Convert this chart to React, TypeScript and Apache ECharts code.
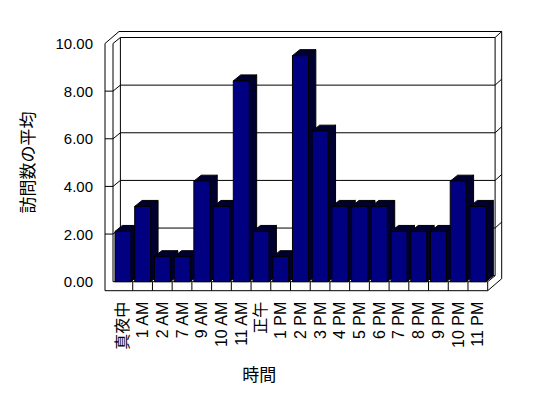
import React, { useEffect, useRef } from "react";
import * as echarts from "echarts";

const categories = ["真夜中", "1 AM", "2 AM", "7 AM", "9 AM", "10 AM", "11 AM", "正午", "1 PM", "2 PM", "3 PM", "4 PM", "5 PM", "6 PM", "7 PM", "8 PM", "9 PM", "10 PM", "11 PM"];
const averageVisits = [2.11, 3.16, 1.05, 1.05, 4.22, 3.16, 8.43, 2.11, 1.05, 9.49, 6.32, 3.16, 3.16, 3.16, 2.11, 2.11, 2.11, 4.22, 3.16];
const yTickValues = [0, 2, 4, 6, 8, 10];
const xAxisTitle = "時間";
const yAxisTitle = "訪問数の平均";

const FONT = '"Liberation Sans", "Noto Sans CJK JP", sans-serif';
const DX = 7.4;
const DY = -6;
const TX = 6.6;
const TY = -6;
const WALL = 8;
const FLOOR = 9;
const NAVY = "#000080";
const DARK = "#000030";

export default function App() {
  const ref = useRef<HTMLDivElement>(null);
  useEffect(() => {
    if (!ref.current) return;
    const chart = echarts.init(ref.current, null, { renderer: "svg" });
    const L = { stroke: "#000", lineWidth: 1 };
    const gridVals = yTickValues.filter((v) => v > yTickValues[0] && v < yTickValues[yTickValues.length - 1]);

    const frameRender = (params: any, api: any) => {
      const cs = params.coordSys;
      const xL = cs.x, xR = cs.x + cs.width, yT = cs.y, yB = cs.y + cs.height;
      const bw = api.size([1, 0])[0];
      const ch: any[] = [];
      ch.push({
        type: "polygon",
        shape: { points: [[xL - WALL, yT], [xL - WALL + DX + TX, yT + DY + TY], [xR + DX + TX, yT + DY + TY], [xR + DX + TX, yB + DY + TY + FLOOR], [xR, yB + FLOOR], [xL - WALL, yB + FLOOR]] },
        style: { fill: "#fff", ...L },
      });
      ch.push({ type: "rect", shape: { x: xL + DX, y: yT + DY, width: xR - xL, height: yB - yT }, style: { fill: "#fff", ...L } });
      const line = (x1: number, y1: number, x2: number, y2: number) =>
        ch.push({ type: "line", shape: { x1, y1, x2, y2 }, style: L });
      line(xR + DX, yT + DY, xR + DX + TX, yT + DY + TY);
      line(xL, yT, xL, yB);
      line(xL, yT, xL + DX, yT + DY);
      line(xL, yB, xR, yB);
      line(xR, yB, xR, yB + FLOOR);
      line(xR, yB, xR + DX, yB + DY);
      for (const v of gridVals) {
        const y = api.coord([0, v])[1];
        line(xL - WALL, y, xL, y);
        line(xL, y, xL + DX, y + DY);
        line(xL + DX, y + DY, xR + DX, y + DY);
        line(xR + DX, y + DY, xR + DX + TX, y + DY + TY);
      }
      for (let k = 1; k < categories.length; k++) {
        const x = xL + k * bw;
        line(x, yB, x, yB + FLOOR);
      }
      return { type: "group", children: ch };
    };

    const barRender = (params: any, api: any) => {
      const i = api.value(0);
      const v = api.value(1);
      const [cx, yTop] = api.coord([i, v]);
      const y0 = api.coord([i, 0])[1];
      const bw = api.size([1, 0])[0];
      const x0 = cx - bw / 2 + bw * 0.1;
      const x1 = x0 + bw * 0.81;
      return {
        type: "group",
        children: [
          { type: "polygon", shape: { points: [[x1, yTop], [x1 + DX, yTop + DY], [x1 + DX, y0 + DY], [x1, y0]] }, style: { fill: DARK, ...L } },
          { type: "polygon", shape: { points: [[x0, yTop], [x0 + DX, yTop + DY], [x1 + DX, yTop + DY], [x1, yTop]] }, style: { fill: DARK, ...L } },
          { type: "rect", shape: { x: x0, y: yTop, width: x1 - x0, height: y0 - yTop }, style: { fill: NAVY, ...L } },
        ],
      };
    };

    chart.setOption({
      animation: false,
      backgroundColor: "#fff",
      grid: { left: 113, right: 60.3, top: 43.5, bottom: 116.3 },
      xAxis: {
        type: "category",
        data: categories,
        axisLine: { show: false },
        axisTick: { show: false },
        axisLabel: { rotate: 90, margin: 20, interval: 0, fontSize: 16, color: "#000", fontFamily: FONT },
        name: xAxisTitle,
        nameLocation: "middle",
        nameGap: 85,
        nameTextStyle: { fontSize: 17, color: "#000", fontFamily: FONT, padding: [0, 82, 0, 0] },
      },
      yAxis: {
        type: "value",
        min: yTickValues[0],
        max: yTickValues[yTickValues.length - 1],
        interval: yTickValues[1] - yTickValues[0],
        axisLine: { show: false },
        axisTick: { show: false },
        splitLine: { show: false },
        axisLabel: { margin: 20, fontSize: 15, color: "#000", fontFamily: FONT, formatter: (v: number) => v.toFixed(2) },
        name: yAxisTitle,
        nameLocation: "middle",
        nameRotate: 90,
        nameGap: 76,
        nameTextStyle: { fontSize: 17, color: "#000", fontFamily: FONT },
      },
      series: [
        { type: "custom", z: 1, silent: true, renderItem: frameRender, data: [[0, 0]], encode: { x: 0, y: 1 } },
        { type: "custom", z: 2, renderItem: barRender, data: categories.map((c, i) => [i, averageVisits[i]]), encode: { x: 0, y: 1 } },
      ],
    });
    return () => chart.dispose();
  }, []);
  return <div ref={ref} style={{ position: "absolute", left: 0, top: 0, width: 548, height: 398 }} />;
}
